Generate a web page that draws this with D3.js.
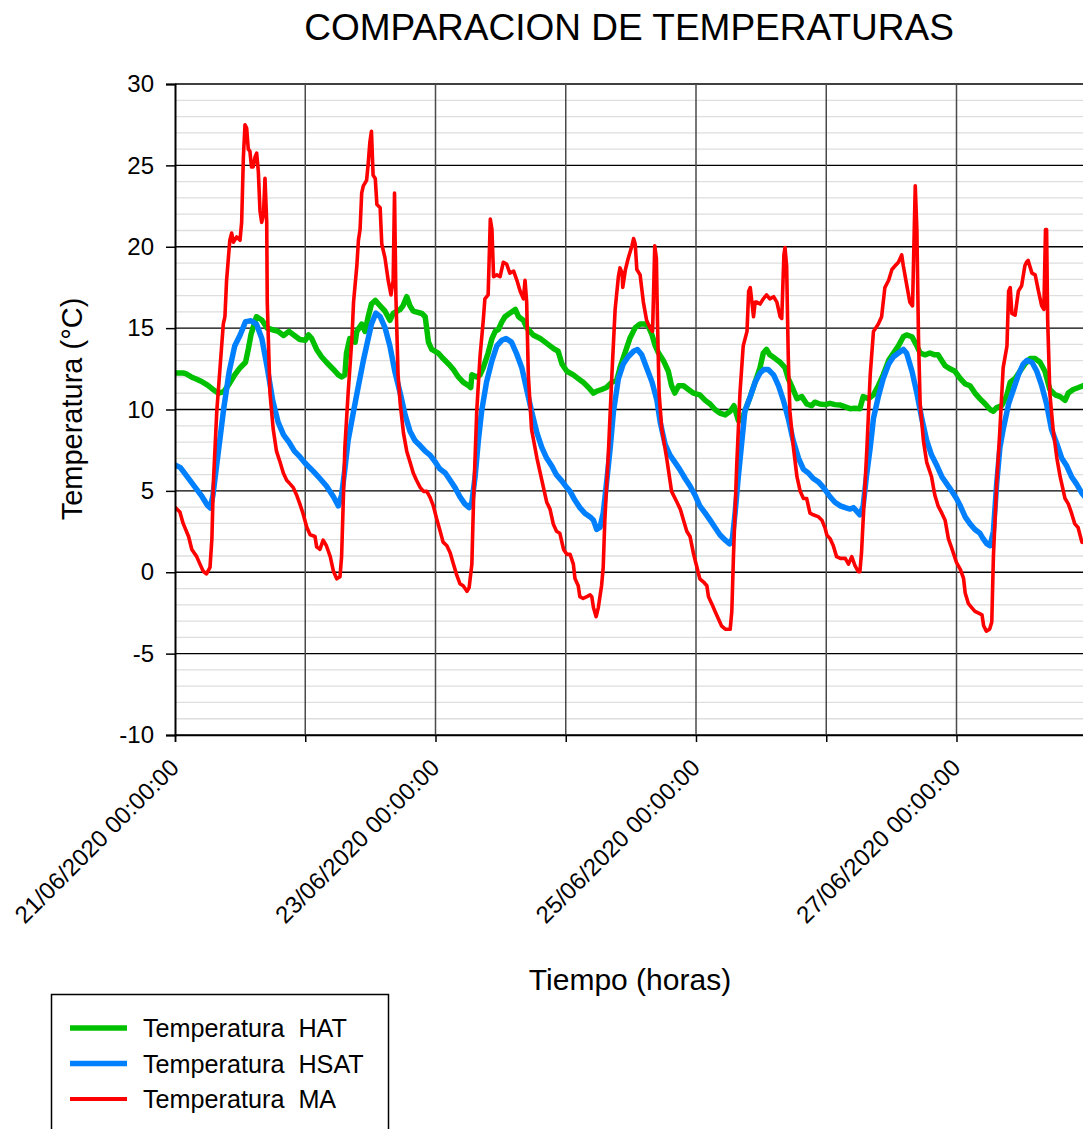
<!DOCTYPE html>
<html>
<head>
<meta charset="utf-8">
<script src="https://cdn.jsdelivr.net/npm/d3@7"></script>
<style>
  html, body { margin: 0; padding: 0; background: #fff; }
  svg { display: block; font-family: "Liberation Sans", Arial, sans-serif; }
</style>
</head>
<body>
<svg id="chart" width="1083" height="1129"></svg>
<script>
// ---------- DATA (hours since 21/06/2020 00:00:00, temperature in °C) ----------
const startDate = new Date(2020, 5, 21, 0, 0, 0);
const spanHours = 168;

const hatHours = [0,1.5,2,3,4,5,6,7,8,9,10,11,12,13,13.5,14,15,16,17,18,19,20,21,22,23,24,24.6,25.2,26.1,27,27.9,29.2,30.1,30.7,31.3,31.6,32.2,33.2,33.5,34.4,35,35.6,36.2,36.9,37.8,38.7,39.6,40.2,41.5,42,42.7,43.3,43.9,45.5,46.1,46.7,47.3,48.5,49.4,50.4,51.3,52.2,53.1,54.1,54.5,54.7,55.6,56.2,56.8,57.7,58.4,59,59.6,60.2,60.8,61.7,62.7,63.3,64.2,64.8,66,67.3,68.2,69.1,70,70.6,71.3,72.2,73.4,74.3,75.2,76.2,77.1,77.7,78.6,79.5,80.5,81.4,82,82.9,83.8,84.8,85.7,86.6,87.2,87.9,88.5,89.1,90,90.9,91.5,92.1,92.8,93.7,94.6,95.5,96.7,97.7,98.6,99.5,100.4,101.4,102.3,103,103.4,103.8,104.4,105,106,106.9,107.8,108.4,109,109.6,110.6,111.5,112.4,113,113.9,114.6,115.5,116.4,117.3,117.9,118.8,119.8,120.7,121.6,122.6,123.5,124.4,125.3,126.2,126.8,127.8,128.7,129.6,130.5,131.5,132.4,133.3,134.2,134.8,135.8,136.7,137.3,138.2,139.1,140,140.6,141.3,141.9,142.8,143.7,144.7,145.6,146.5,147.4,148.3,149.3,150.2,150.8,151.4,152.3,153.2,153.9,154.8,155.7,156.6,157.6,158.5,159.4,160.3,161.2,162.2,163.1,164,164.6,165.5,166.5,167.3,168];
const hatTemps = [12.24,12.24,12.2,12.0,11.86,11.7,11.5,11.23,11.0,11.1,11.57,12.13,12.57,12.9,13.7,14.6,15.7,15.5,15.0,14.9,14.8,14.55,14.8,14.55,14.3,14.25,14.58,14.36,13.69,13.24,12.9,12.46,12.13,12.0,12.13,13.47,14.36,14.14,14.8,15.25,14.8,15.7,16.48,16.7,16.37,16.04,15.48,15.9,16.15,16.37,16.93,16.37,16.04,15.9,15.7,14.14,13.7,13.47,13.13,12.8,12.46,12.0,11.68,11.46,11.35,12.13,12.0,12.13,12.57,13.47,14.36,14.8,14.92,15.37,15.7,15.92,16.15,15.7,15.48,15.03,14.58,14.36,14.14,13.91,13.69,13.58,12.8,12.35,12.13,11.9,11.68,11.35,11.01,11.12,11.23,11.35,11.68,11.8,12.57,13.47,14.36,15.03,15.25,15.25,15.14,14.58,13.91,13.47,13.0,12.35,11.46,11.01,11.46,11.46,11.23,11.01,10.9,10.56,10.34,10.0,9.78,9.67,9.89,10.23,9.78,9.33,9.33,9.89,10.79,11.68,12.57,13.47,13.69,13.36,13.13,12.9,12.57,11.9,11.23,10.67,10.79,10.34,10.23,10.45,10.34,10.3,10.38,10.3,10.27,10.16,10.05,10.07,10.05,10.79,10.67,10.9,11.46,12.13,13.02,13.47,13.91,14.47,14.58,14.47,13.91,13.47,13.36,13.47,13.36,13.36,13.0,12.69,12.5,12.35,11.9,11.57,11.46,11.01,10.67,10.34,10.0,9.89,10.12,10.23,10.79,11.68,11.9,12.35,12.8,13.13,13.13,12.9,12.35,11.23,10.9,10.79,10.56,11.01,11.23,11.35,11.46,11.5];

const hsatHours = [0,1,2,3,4,5,6,6.5,7,8,9,10,11,12,13,14,15,16,17,18,19,20,21,22,23,24,25.5,26.7,27.9,29.2,30.1,30.7,31.3,31.9,32.9,33.8,34.7,35.6,36.2,37,37.8,38.7,39.6,40.5,41.5,42.4,43.3,44.2,45.2,46.1,47,47.9,48.8,49.8,50.7,51.6,52.5,53.4,54.2,54.7,55.3,55.9,56.5,57.4,58.4,59.3,60.2,61,62,62.9,63.9,64.8,65.7,66.7,67.6,68.5,69.4,70.3,71.3,72.2,72.8,73.7,74.6,75.5,76.5,77.1,77.7,78.3,78.9,79.5,80.2,80.8,81.7,82.6,83.5,84.5,85.2,86,86.9,87.9,88.8,89.4,90.3,91.2,92.1,93,94,94.9,95.8,96.7,97.7,98.6,99.5,100.4,101.4,102.2,102.7,103.2,103.8,104.4,105,106,106.9,107.8,108.5,109.3,110.3,111.2,112.1,113,113.9,114.9,115.8,116.7,117.6,118.6,119.5,120.7,121.6,122.6,123.5,124.4,125,125.6,126.2,126.8,127.4,128.1,128.7,129.6,130.5,131.5,132.4,133.3,134.2,134.8,135.8,136.7,137.6,138.5,139.4,140.4,141.3,142.2,143.1,144,144.7,145.6,146.5,147.4,148.3,148.9,149.6,150.2,150.8,151.4,152,152.6,153.6,154.5,155.4,156.3,157,157.9,158.8,159.7,160.6,161.5,162.5,163.4,164.3,165.2,166.1,167.1,168];
const hsatTemps = [6.6,6.43,5.98,5.54,5.09,4.64,4.1,3.95,4.75,7.44,10.12,12.35,13.9,14.58,15.4,15.45,15.25,14.36,12.57,10.56,9.22,8.44,8.0,7.44,7.1,6.7,6.2,5.76,5.3,4.64,4.08,4.75,6.32,8.1,9.89,11.46,13.0,14.36,15.25,15.92,15.7,15.03,13.9,12.35,11.0,9.67,8.66,8.1,7.77,7.44,7.2,6.8,6.35,6.1,5.65,5.2,4.64,4.2,3.97,4.3,5.87,8.1,9.9,11.68,13.0,13.91,14.25,14.36,14.14,13.47,12.57,11.23,9.9,8.55,7.66,7.0,6.54,5.98,5.6,5.2,4.97,4.42,3.97,3.63,3.4,3.2,2.63,2.75,3.63,5.43,7.66,9.9,11.9,12.8,13.24,13.58,13.69,13.36,12.57,11.68,10.56,9.22,7.88,7.2,6.77,6.32,5.76,5.3,4.75,4.08,3.63,3.2,2.75,2.3,1.97,1.74,2.07,3.63,5.87,7.88,9.9,10.79,11.68,12.24,12.46,12.46,12.13,11.46,10.56,9.45,8.1,7.0,6.32,6.1,5.76,5.54,5.2,4.64,4.3,4.08,3.97,3.88,3.97,3.75,3.53,4.08,5.87,7.66,9.45,10.79,11.9,12.8,13.24,13.47,13.69,13.47,12.35,11.0,9.45,8.1,7.2,6.54,5.87,5.43,5.0,4.53,4.08,3.4,2.97,2.63,2.4,2.07,1.74,1.63,2.52,5.43,7.66,8.78,10.34,11.23,12.13,12.8,13.02,12.9,12.35,11.46,10.34,8.78,7.88,7.0,6.54,5.87,5.43,4.86,4.5];

const maHours = [0,0.9,1.5,2.5,3.1,4,4.6,5.2,5.8,6.45,6.8,7.06,7.7,8.3,8.9,9.2,9.5,10.1,10.44,10.75,11.36,11.98,12.28,12.6,12.9,13.2,13.5,13.8,14.1,14.4,14.74,15.05,15.36,15.66,15.97,16.3,16.58,16.9,17.0,17.2,17.5,18.1,18.7,19.35,19.96,20.58,21.2,21.8,22.4,23.0,23.6,24.3,24.9,25.8,26.1,26.7,27.3,27.9,28.6,29.2,29.8,30.4,30.7,31.0,31.3,31.9,32.6,32.9,33.5,33.8,34.1,34.4,34.7,35.3,35.6,35.9,36.2,36.5,36.9,37.2,37.8,38.1,38.7,39.3,39.8,40.2,40.45,40.7,41.1,41.5,42.1,42.7,43.3,43.9,44.5,45.2,45.8,46.4,47.0,47.6,48.2,48.8,49.4,50.1,50.7,51.3,51.9,52.5,53.1,53.8,54.2,54.7,55.0,55.6,56.2,56.8,57.1,57.7,58.1,58.4,58.7,59.3,59.9,60.5,61.1,61.7,62.4,63.0,63.6,64.2,64.5,64.8,65.1,65.7,66.7,67.6,68.5,69.1,69.7,70.3,70.9,71.6,72.2,72.8,73.4,73.7,74.3,74.6,75.2,75.9,76.5,76.8,77.1,77.6,78.0,78.6,78.9,79.2,79.9,80.5,81.1,81.7,82.0,82.4,82.5,83.0,83.5,83.9,84.2,84.5,84.8,85.1,85.7,86.3,86.9,87.5,88.0,88.4,88.7,88.9,89.2,89.7,90.6,91.5,92.5,93.1,93.7,94.3,94.9,95.5,96.1,96.7,97.4,98.0,98.3,98.9,99.5,100.1,100.7,101.4,102.3,102.6,102.9,103.5,104.1,104.7,105.4,105.7,106.0,106.3,106.6,106.9,107.2,107.8,108.4,109.0,109.6,110.3,110.9,111.5,111.8,112.2,112.4,112.7,113.0,113.3,113.95,114.6,115.2,115.8,116.4,117.0,117.6,118.6,119.2,119.8,120.1,120.7,121.3,121.9,122.6,123.5,124.1,124.7,125.3,125.9,126.2,126.5,126.8,127.5,128.1,128.7,129.6,130.2,130.8,131.5,132.1,132.7,133.3,133.9,134.2,134.8,135.4,135.9,136.4,136.7,137.0,137.3,137.9,138.5,139.4,140.0,140.6,141.3,141.9,142.5,143.1,144.0,144.7,145.3,145.6,146.2,146.8,147.4,148.0,148.7,149.0,149.5,150.1,150.5,150.8,151.4,152.0,152.6,153.3,153.6,153.9,154.2,154.8,155.4,156.0,156.6,156.9,157.2,157.9,158.5,159.1,159.7,160.1,160.4,160.6,160.8,161.2,161.8,162.5,163.1,164.0,164.6,165.2,165.8,166.4,167.1,168];
const maTemps = [4.0,3.7,3.0,2.2,1.4,0.96,0.5,0.06,-0.1,0.3,2.07,5.4,9.9,12.57,15.25,15.7,17.9,20.4,20.84,20.28,20.6,20.4,21.5,25.5,27.5,27.3,26.0,25.87,24.9,24.9,25.5,25.75,24.6,22.2,21.5,21.96,24.2,21.5,16.6,14.36,11.0,8.78,7.44,6.77,6.1,5.65,5.43,5.2,4.75,4.2,3.6,2.75,2.3,2.2,1.56,1.4,1.97,1.63,0.96,0.06,-0.4,-0.28,0.97,4.3,7.66,11.0,14.36,16.6,18.8,20.4,21.06,23.3,23.74,24.08,25.1,26.4,27.1,24.4,24.2,22.6,22.4,20.17,19.3,17.9,17.04,17.94,23.3,17.0,12.13,10.34,8.55,7.44,6.77,6.1,5.65,5.2,4.97,4.97,4.6,4.08,3.3,2.6,1.85,1.63,1.2,0.5,-0.16,-0.7,-0.83,-1.17,-0.94,0.5,4.3,9.9,13.24,15.48,16.8,17.04,21.7,21.06,18.16,18.27,18.16,19.05,18.94,18.38,18.5,17.94,17.27,16.8,17.94,16.6,12.13,8.78,7.0,5.65,4.3,3.88,2.97,2.52,2.4,1.4,1.1,1.1,0.5,-0.38,-0.83,-1.5,-1.61,-1.5,-1.39,-1.5,-2.17,-2.73,-2.17,-0.83,0.28,3.2,7.66,12.13,16.15,18.16,18.7,18.38,17.5,18.6,19.28,19.72,20.06,20.5,20.17,18.6,18.27,16.6,15.48,15.03,14.8,20.06,19.28,15.48,11.0,8.78,7.0,4.97,4.3,3.88,3.2,2.52,2.2,1.2,0.4,-0.4,-0.6,-0.83,-1.5,-1.93,-2.4,-2.84,-3.29,-3.5,-3.5,-2.4,0.96,6.54,11.0,13.91,14.8,17.27,17.49,16.6,15.7,16.6,16.6,16.48,16.8,17.04,16.8,16.93,16.6,15.7,15.6,19.5,19.95,18.8,13.24,9.9,7.66,5.87,4.97,4.53,4.53,3.63,3.53,3.4,3.2,2.7,2.3,2.07,1.63,0.96,0.85,0.85,0.5,0.96,0.4,0.04,0.04,1.2,3.2,7.66,12.13,14.8,15.25,15.7,17.49,17.94,18.6,18.83,19.05,19.5,18.83,17.7,16.6,16.37,23.74,21.06,14.36,10.34,8.1,6.77,5.87,4.75,4.08,3.63,3.2,2.07,1.5,0.6,0.17,-0.38,-1.27,-1.93,-2.17,-2.4,-2.5,-2.62,-3.29,-3.62,-3.5,-3.06,0.96,5.43,8.78,12.57,13.9,17.27,17.49,15.9,15.8,17.27,17.6,18.83,19.05,19.16,18.38,18.27,17.27,16.37,16.15,21.06,21.06,15.48,11.0,8.78,7.0,5.87,4.53,4.2,3.63,2.97,2.75,1.85,1.8];

const seriesNames = ["Temperatura  HAT", "Temperatura  HSAT", "Temperatura  MA"];
const seriesColors = ["#00c000", "#0080ff", "#ff0000"];
const yMajorTicks = [-10, -5, 0, 5, 10, 15, 20, 25, 30];
const labeledDayStep = 2;

// ---------- LAYOUT ----------
const svg = d3.select("#chart");
const plotLeft = 175, plotTop = 84, plotBottom = 735, plotRight = 1086.75;
const hourMs = 3600 * 1000;
const toDate = h => new Date(startDate.getTime() + h * hourMs);

const x = d3.scaleTime().domain([startDate, toDate(spanHours)]).range([plotLeft, plotRight]);
const y = d3.scaleLinear().domain([-10, 30]).range([plotBottom, plotTop]);

svg.append("defs").append("clipPath").attr("id", "plotclip")
  .append("rect").attr("x", plotLeft).attr("y", plotTop - 3).attr("width", plotRight - plotLeft).attr("height", plotBottom - plotTop + 6);

// minor grid
const minorVals = d3.range(-10, 31, 1).filter(v => v % 5 !== 0);
svg.append("g").selectAll("line").data(minorVals).join("line")
  .attr("x1", plotLeft).attr("x2", plotRight).attr("y1", d => y(d)).attr("y2", d => y(d))
  .attr("stroke", "#dedede").attr("stroke-width", 1.3);

// major grid
svg.append("g").selectAll("line").data(yMajorTicks).join("line")
  .attr("x1", plotLeft).attr("x2", plotRight).attr("y1", d => y(d)).attr("y2", d => y(d))
  .attr("stroke", "#000").attr("stroke-width", 1.3);

// vertical day grid
const days = d3.timeDay.range(startDate, toDate(spanHours + 1));
svg.append("g").selectAll("line").data(days.slice(1)).join("line")
  .attr("x1", d => x(d)).attr("x2", d => x(d)).attr("y1", plotTop).attr("y2", plotBottom)
  .attr("stroke", "#4a4a4a").attr("stroke-width", 1.5);

// series
const mk = (hours, temps) => hours.map((h, i) => ({ t: toDate(h), v: temps[i] }));
const series = [mk(hatHours, hatTemps), mk(hsatHours, hsatTemps), mk(maHours, maTemps)];
const widths = [5.5, 5.5, 3.6];
const line = d3.line().x(d => x(d.t)).y(d => y(d.v));
const gLines = svg.append("g").attr("clip-path", "url(#plotclip)");
series.forEach((s, i) => {
  gLines.append("path").datum(s).attr("d", line)
    .attr("fill", "none").attr("stroke", seriesColors[i]).attr("stroke-width", widths[i])
    .attr("stroke-linejoin", "round").attr("stroke-linecap", "round");
});

// y axis
const yAxis = svg.append("g").attr("transform", `translate(${plotLeft},0)`)
  .call(d3.axisLeft(y).tickValues(yMajorTicks).tickSize(9).tickPadding(12).tickFormat(d => String(d)));
yAxis.select(".domain").attr("stroke", "#000").attr("stroke-width", 2);
yAxis.selectAll(".tick line").attr("stroke", "#000").attr("stroke-width", 1.5);
yAxis.selectAll("text").attr("font-size", 24).attr("fill", "#000")
  .attr("font-family", "'Liberation Sans', Arial, sans-serif");

// x axis
const fmt = d3.timeFormat("%d/%m/%Y %H:%M:%S");
const xAxis = svg.append("g").attr("transform", `translate(0,${plotBottom})`)
  .call(d3.axisBottom(x).tickValues(days).tickSize(7)
    .tickFormat((d, i) => i % labeledDayStep === 0 ? fmt(d) : ""));
xAxis.select(".domain").attr("stroke", "#000").attr("stroke-width", 1.5);
xAxis.selectAll(".tick line").attr("stroke", "#000").attr("stroke-width", 1.5);
xAxis.selectAll("text")
  .attr("font-size", 24).attr("fill", "#000")
  .attr("font-family", "'Liberation Sans', Arial, sans-serif")
  .attr("text-anchor", "end").attr("x", 0).attr("y", 0).attr("dy", 0)
  .attr("transform", "translate(5,34) rotate(-45)");

// titles
svg.append("text").attr("x", 629).attr("y", 40).attr("text-anchor", "middle")
  .attr("font-size", 37).text("COMPARACION DE TEMPERATURAS");
svg.append("text").attr("x", 630).attr("y", 990).attr("text-anchor", "middle")
  .attr("font-size", 30).text("Tiempo (horas)");
svg.append("text").attr("transform", "translate(82,409) rotate(-90)").attr("text-anchor", "middle")
  .attr("font-size", 29).text("Temperatura (°C)");

// legend
const lg = svg.append("g");
lg.append("rect").attr("x", 51.5).attr("y", 994.5).attr("width", 337).attr("height", 200)
  .attr("fill", "#fff").attr("stroke", "#000").attr("stroke-width", 1.5);
const legendWidths = [5.5, 5.5, 3.8];
seriesNames.forEach((n, i) => {
  const ly = 1028 + i * 35.5;
  lg.append("line").attr("x1", 70).attr("x2", 127).attr("y1", ly).attr("y2", ly)
    .attr("stroke", seriesColors[i]).attr("stroke-width", legendWidths[i]);
  lg.append("text").attr("x", 143).attr("y", ly + 9).attr("font-size", 25.2)
    .style("white-space", "pre").text(n);
});
</script>
</body>
</html>
